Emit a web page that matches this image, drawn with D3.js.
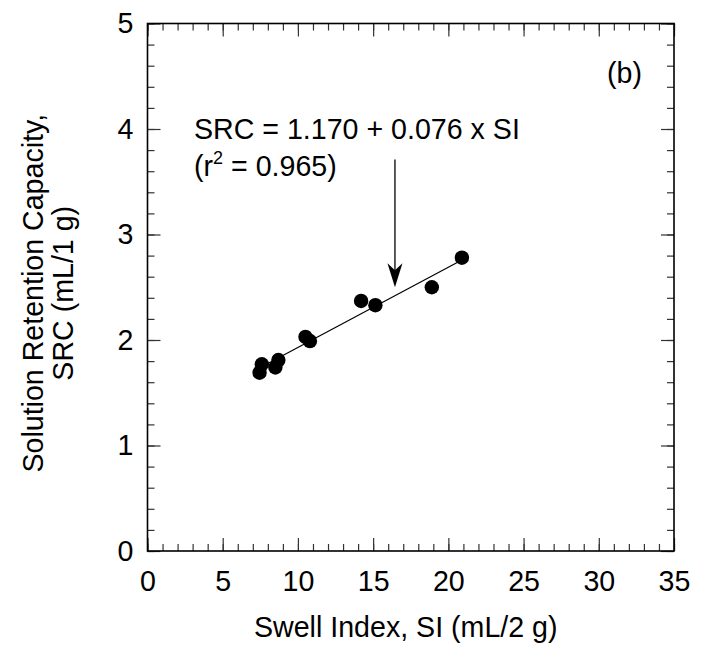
<!DOCTYPE html>
<html>
<head>
<meta charset="utf-8">
<script src="https://cdn.jsdelivr.net/npm/d3@7"></script>
<style>
  body { margin: 0; background: #fff; }
  svg { display: block; }
</style>
</head>
<body>
<div id="chart"></div>
<script>
// swell index (x) and solution retention capacity (y)
const swellIndex = [7.45, 7.6, 8.5, 8.7, 10.5, 10.8, 14.2, 15.15, 18.9, 20.9];
const srcValues = [1.69, 1.77, 1.74, 1.81, 2.03, 1.99, 2.37, 2.33, 2.50, 2.78];

const fitIntercept = 1.170;
const fitSlope = 0.076;
const fitRange = [7.5, 20.9];

const xTicks = [0, 5, 10, 15, 20, 25, 30, 35];
const yTicks = [0, 1, 2, 3, 4, 5];
const xMinor = d3.range(0, 35.01, 1);
const yMinor = d3.range(0, 5.001, 0.2);

const arrowX = 16.45;
const arrowY = [3.71, 2.50];

const width = 701, height = 649;
const margin = { top: 23.5, right: 27, bottom: 98, left: 147.5 };
const fontSize = 28.6;

const x = d3.scaleLinear().domain([0, 35]).range([margin.left, width - margin.right]);
const y = d3.scaleLinear().domain([0, 5]).range([height - margin.bottom, margin.top]);

const svg = d3.select('#chart')
  .append('svg')
  .attr('width', width)
  .attr('height', height)
  .attr('font-family', 'Liberation Sans, Arial, sans-serif')
  .attr('font-size', fontSize);

// ticks on all four sides, pointing inward
function tickAxis(axisFn, scale, values, size, labels) {
  return axisFn(scale).tickValues(values).tickSize(size).tickSizeOuter(0)
    .tickFormat(labels ? d3.format('d') : '');
}

const yBottom = y(0), yTop = y(5), xLeft = x(0), xRight = x(35);

svg.append('g').attr('transform', `translate(0,${yBottom})`)
  .call(tickAxis(d3.axisBottom, x, xMinor, -7, false));
svg.append('g').attr('transform', `translate(0,${yBottom})`)
  .call(tickAxis(d3.axisBottom, x, xTicks, -13, true))
  .call(g => g.selectAll('text').attr('y', 20).attr('dy', '0.71em'));
svg.append('g').attr('transform', `translate(0,${yTop})`)
  .call(tickAxis(d3.axisTop, x, xMinor, -7, false));
svg.append('g').attr('transform', `translate(0,${yTop})`)
  .call(tickAxis(d3.axisTop, x, xTicks, -13, false));

svg.append('g').attr('transform', `translate(${xLeft},0)`)
  .call(tickAxis(d3.axisLeft, y, yMinor, -7, false));
svg.append('g').attr('transform', `translate(${xLeft},0)`)
  .call(tickAxis(d3.axisLeft, y, yTicks, -13, true))
  .call(g => g.selectAll('text').attr('x', -14));
svg.append('g').attr('transform', `translate(${xRight},0)`)
  .call(tickAxis(d3.axisRight, y, yMinor, -7, false));
svg.append('g').attr('transform', `translate(${xRight},0)`)
  .call(tickAxis(d3.axisRight, y, yTicks, -13, false));

svg.selectAll('.domain').remove();
svg.selectAll('.tick line').attr('stroke', '#333').attr('stroke-width', 1.2);
svg.selectAll('.tick text')
  .attr('fill', '#000')
  .attr('font-size', fontSize)
  .attr('font-family', 'Liberation Sans, Arial, sans-serif');

// frame
svg.append('rect')
  .attr('x', xLeft).attr('y', yTop)
  .attr('width', xRight - xLeft).attr('height', yBottom - yTop)
  .attr('fill', 'none').attr('stroke', '#000').attr('stroke-width', 1.6);

// regression line
svg.append('path')
  .datum(fitRange)
  .attr('d', d3.line().x(d => x(d)).y(d => y(fitIntercept + fitSlope * d)))
  .attr('stroke', '#000').attr('stroke-width', 1.2).attr('fill', 'none');

// data points
svg.append('g')
  .selectAll('circle')
  .data(swellIndex)
  .join('circle')
  .attr('cx', d => x(d))
  .attr('cy', (d, i) => y(srcValues[i]))
  .attr('r', 7.2)
  .attr('fill', '#000');

// arrow
const ax = x(arrowX), ay0 = y(arrowY[0]), ay1 = y(arrowY[1]);
svg.append('line')
  .attr('x1', ax).attr('x2', ax).attr('y1', ay0).attr('y2', ay1 - 10)
  .attr('stroke', '#000').attr('stroke-width', 1.3);
svg.append('path')
  .attr('d', `M${ax},${ay1} L${ax - 7.5},${ay1 - 24} L${ax},${ay1 - 17} L${ax + 7.5},${ay1 - 24} Z`)
  .attr('fill', '#000');

// annotation
svg.append('text').attr('x', 194).attr('y', 139).text('SRC = 1.170 + 0.076 x SI');
const r2 = svg.append('text').attr('x', 194).attr('y', 176);
r2.append('tspan').text('(r');
r2.append('tspan').attr('dy', -12).attr('font-size', 18).text('2');
r2.append('tspan').attr('dy', 12).text(' = 0.965)');
svg.append('text').attr('x', 607).attr('y', 83).text('(b)');

// axis titles
svg.append('text')
  .attr('x', (xLeft + xRight) / 2 - 5).attr('y', 637)
  .attr('text-anchor', 'middle')
  .text('Swell Index, SI (mL/2 g)');

const yTitle = svg.append('g')
  .attr('transform', `translate(0,${(yTop + yBottom) / 2 + 6}) rotate(-90)`)
  .attr('text-anchor', 'middle');
yTitle.append('text').attr('x', 0).attr('y', 43).text('Solution Retention Capacity,');
yTitle.append('text').attr('x', 0).attr('y', 73).text('SRC (mL/1 g)');
</script>
</body>
</html>
